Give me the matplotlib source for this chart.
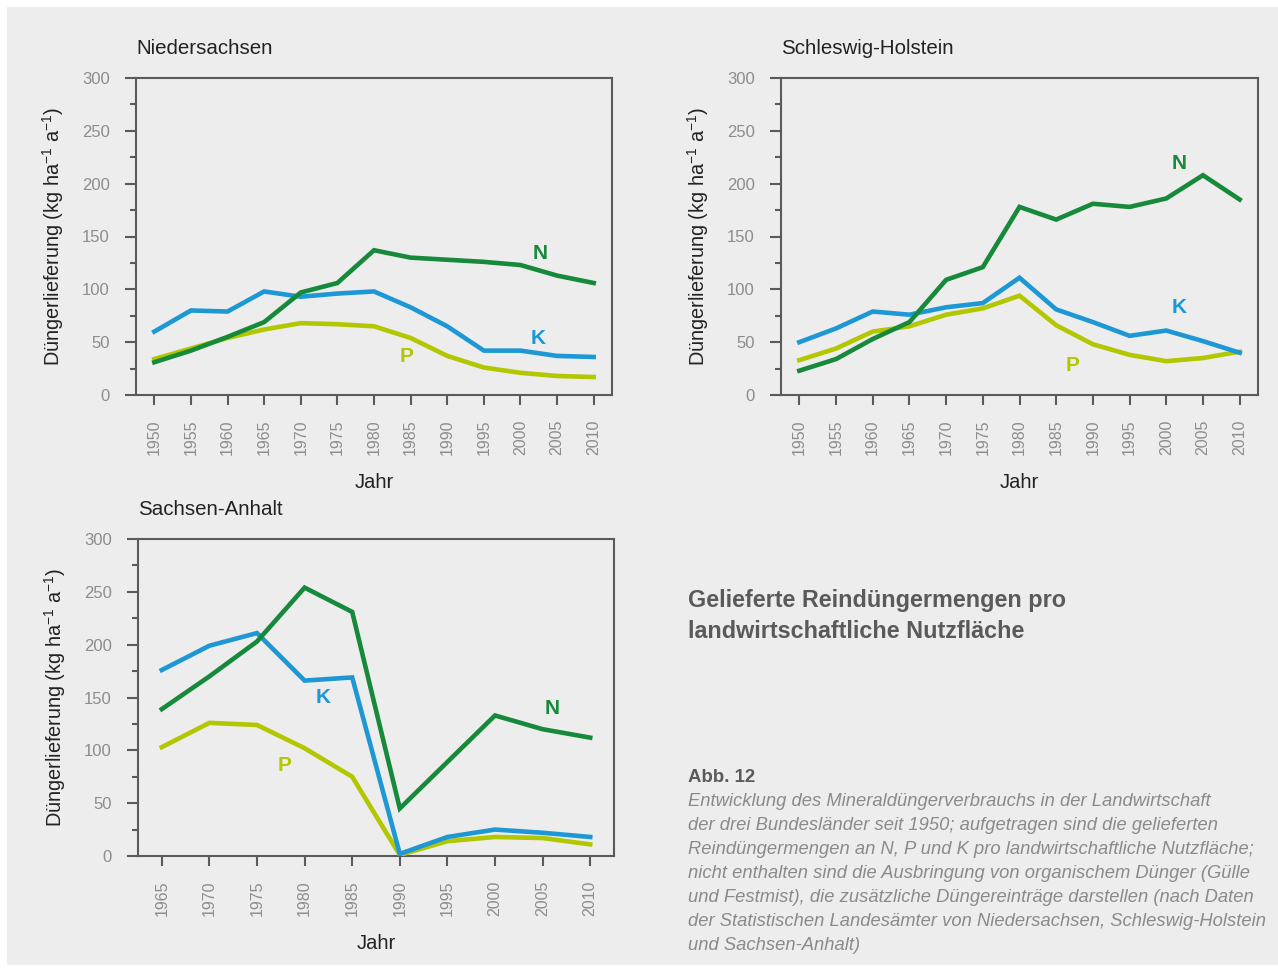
import matplotlib.pyplot as plt
from matplotlib.patches import Rectangle
from matplotlib.ticker import MultipleLocator

plt.rcParams['font.family'] = ['Liberation Sans', 'DejaVu Sans']

# Niedersachsen
jahre_ns = [1950, 1955, 1960, 1965, 1970, 1975, 1980, 1985, 1990, 1995, 2000, 2005, 2010]
n_ns = [31, 42, 55, 69, 97, 106, 137, 130, 128, 126, 123, 113, 106]
k_ns = [60, 80, 79, 98, 93, 96, 98, 83, 65, 42, 42, 37, 36]
p_ns = [34, 44, 54, 62, 68, 67, 65, 54, 37, 26, 21, 18, 17]

# Schleswig-Holstein
jahre_sh = [1950, 1955, 1960, 1965, 1970, 1975, 1980, 1985, 1990, 1995, 2000, 2005, 2010]
n_sh = [23, 34, 53, 69, 109, 121, 178, 166, 181, 178, 186, 208, 185]
k_sh = [50, 63, 79, 76, 83, 87, 111, 81, 69, 56, 61, 51, 40]
p_sh = [33, 44, 60, 65, 76, 82, 94, 66, 48, 38, 32, 35, 41]

# Sachsen-Anhalt
jahre_sa = [1965, 1970, 1975, 1980, 1985, 1990, 1995, 2000, 2005, 2010]
n_sa = [139, 170, 203, 254, 231, 45, 89, 133, 120, 112]
k_sa = [176, 199, 211, 166, 169, 2, 18, 25, 22, 18]
p_sa = [103, 126, 124, 102, 75, 1, 14, 18, 17, 11]

col_n = '#17893b'
col_k = '#1d98d5'
col_p = '#b2c700'
grau = '#8c8c8c'
rahmen = '#5a5a5a'

W, H = 1278, 969
fig = plt.figure(figsize=(W / 100, H / 100), dpi=100)
fig.patch.set_facecolor('white')
fig.patches.append(Rectangle((7 / W, 4 / H), (W - 7) / W, (H - 11) / H,
                             transform=fig.transFigure, facecolor='#ecedec',
                             edgecolor='none', zorder=-10))


def px_axes(l, t, r, b):
    return fig.add_axes([l / W, (H - b) / H, (r - l) / W, (b - t) / H])


def panel(ax, jahre, n, k, p, titel, xlim, lab):
    ax.set_facecolor('none')
    ax.plot(jahre, p, color=col_p, lw=3.3, solid_joinstyle='miter', zorder=3)
    ax.plot(jahre, k, color=col_k, lw=3.3, solid_joinstyle='miter', zorder=3)
    ax.plot(jahre, n, color=col_n, lw=3.3, solid_joinstyle='miter', zorder=4)
    ax.set_xlim(*xlim)
    ax.set_ylim(0, 300)
    ax.set_xticks(jahre)
    ax.set_xticklabels([str(j) for j in jahre], rotation=90)
    ax.yaxis.set_major_locator(MultipleLocator(50))
    ax.yaxis.set_minor_locator(MultipleLocator(25))
    for s in ax.spines.values():
        s.set_color(rahmen)
        s.set_linewidth(1.5)
    ax.tick_params(axis='x', direction='out', length=7.5, width=1.5, color=rahmen,
                   labelcolor=grau, labelsize=11.5, pad=10)
    ax.tick_params(axis='y', which='major', direction='out', length=8, width=1.5,
                   color=rahmen, labelcolor=grau, labelsize=12, pad=11)
    ax.tick_params(axis='y', which='minor', direction='out', length=4, width=1.5,
                   color=rahmen)
    ax.set_ylabel('Düngerlieferung (kg ha$^{\\mathregular{-1}}$ a$^{\\mathregular{-1}}$)',
                  fontsize=14.3, color='#222222', labelpad=11)
    ax.set_xlabel('Jahr', fontsize=14.5, color='#222222', labelpad=13)
    ax.set_title(titel, loc='left', fontsize=14.8, color='#222222', pad=17.5, x=0.0)
    for (txt, x, y, c) in lab:
        ax.text(x, y, txt, color=c, fontsize=15, fontweight='bold',
                ha='center', va='center')


ax1 = px_axes(136, 78, 612, 395)
panel(ax1, jahre_ns, n_ns, k_ns, p_ns, 'Niedersachsen', (1947.5, 2012.5),
      [('N', 2002.7, 134, col_n), ('K', 2002.4, 53, col_k), ('P', 1984.5, 36, col_p)])

ax2 = px_axes(781, 78, 1258, 395)
panel(ax2, jahre_sh, n_sh, k_sh, p_sh, 'Schleswig-Holstein', (1947.5, 2012.5),
      [('N', 2001.8, 219, col_n), ('K', 2001.8, 83, col_k), ('P', 1987.2, 28, col_p)])

ax3 = px_axes(138, 539, 614, 856)
panel(ax3, jahre_sa, n_sa, k_sa, p_sa, 'Sachsen-Anhalt', (1962.5, 2012.5),
      [('N', 2006, 140, col_n), ('K', 1981.9, 150, col_k), ('P', 1977.9, 86, col_p)])

for i, zeile in enumerate(['Gelieferte Reindüngermengen pro',
                           'landwirtschaftliche Nutzfläche']):
    fig.text(688 / W, 1 - (600 + 31 * i) / H, zeile, fontsize=16.8,
             fontweight='bold', color='#5a5a5a', va='center', ha='left')
fig.text(688 / W, 1 - 777 / H, 'Abb. 12', fontsize=13.4, fontweight='bold',
         color='#5a5a5a', va='center', ha='left')

caption = ['Entwicklung des Mineraldüngerverbrauchs in der Landwirtschaft',
           'der drei Bundesländer seit 1950; aufgetragen sind die gelieferten',
           'Reindüngermengen an N, P und K pro landwirtschaftliche Nutzfläche;',
           'nicht enthalten sind die Ausbringung von organischem Dünger (Gülle',
           'und Festmist), die zusätzliche Düngereinträge darstellen (nach Daten',
           'der Statistischen Landesämter von Niedersachsen, Schleswig-Holstein',
           'und Sachsen-Anhalt)']
for i, zeile in enumerate(caption):
    fig.text(688 / W, 1 - (801 + 24 * i) / H, zeile, fontsize=13.2, style='italic',
             color='#8a8a8a', va='center', ha='left')

fig.savefig('out.png', dpi=100, facecolor=fig.get_facecolor())
